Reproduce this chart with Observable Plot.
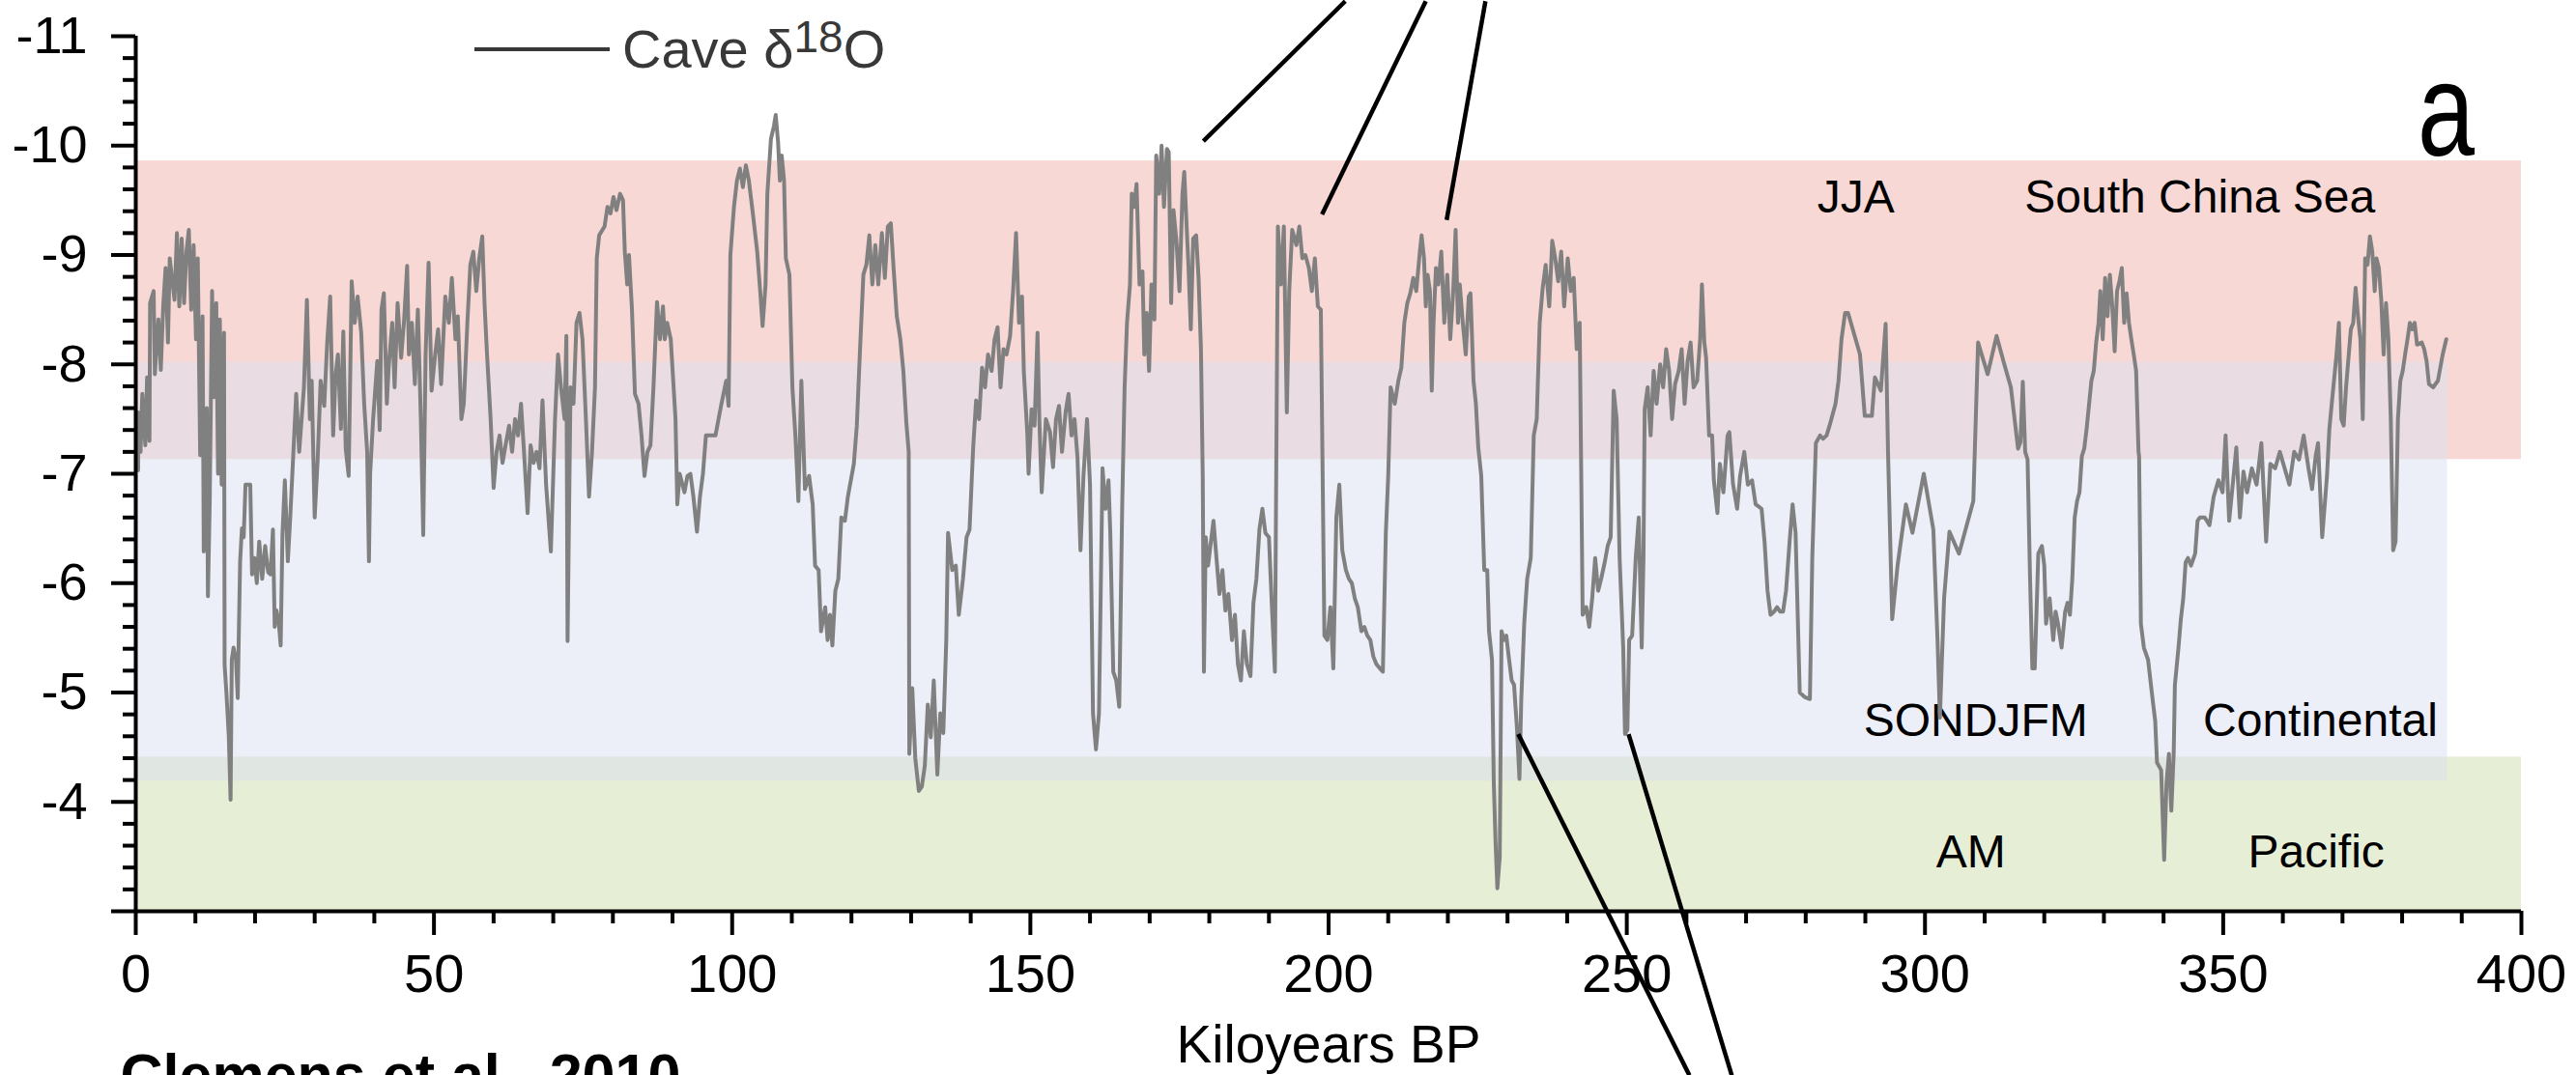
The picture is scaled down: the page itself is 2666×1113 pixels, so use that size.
<!DOCTYPE html>
<html>
<head>
<meta charset="utf-8">
<script src="https://cdn.jsdelivr.net/npm/d3@7"></script>
<script src="https://cdn.jsdelivr.net/npm/@observablehq/plot@0.6"></script>
<style>
  html, body { margin: 0; padding: 0; background: #fff; overflow: hidden; }
  #wrap { position: relative; width: 2666px; height: 1113px; overflow: hidden;
          font-family: "Liberation Sans", Arial, Helvetica, sans-serif; }
  #wrap svg { position: absolute; left: 0; top: 0; overflow: visible; }
  .legend-line { position: absolute; left: 491px; top: 49px; width: 140px; height: 4px; background: #383838; }
  .legend-text { position: absolute; left: 644px; top: 23px; font-size: 56px; line-height: 1; color: #383838; white-space: nowrap; }
  .legend-text .sup { font-size: 46px; position: relative; top: -16px; }
  .panel { position: absolute; left: 2502px; top: 44px; font-size: 138px; line-height: 1; color: #000;
           transform: scaleX(0.77); transform-origin: 0 0; }
</style>
</head>
<body>
<div id="wrap">
  <div class="legend-line"></div>
  <div class="legend-text">Cave δ<span class="sup">18</span>O</div>
  <div class="panel">a</div>
</div>
<script>
// ---- Cave δ18O record: [age (ka BP), δ18O (‰)] ----
const caveRecord = [
[0.4,-7.03],[0.45,-7.56],[0.8,-7.2],[1.1,-7.73],[1.6,-7.26],[1.9,-7.88],[2.3,-7.3],[2.4,-8.56],[3.0,-8.67],[3.2,-7.91],
[3.8,-8.41],[4.2,-7.95],[4.6,-8.53],[5.0,-8.88],[5.4,-8.2],[5.7,-8.97],[6.2,-8.73],[6.5,-8.59],[6.9,-9.2],[7.3,-8.53],
[7.7,-9.15],[8.1,-8.56],[8.5,-9.03],[8.9,-9.23],[9.3,-8.5],[9.7,-9.09],[10.1,-8.23],[10.4,-8.97],[10.8,-7.17],[11.2,-8.44],
[11.4,-6.29],[11.9,-7.6],[12.1,-5.88],[12.4,-6.73],[12.8,-8.67],[13.1,-7.7],[13.5,-8.56],[13.8,-7.0],[14.1,-8.41],[14.4,-6.9],
[14.8,-8.29],[14.9,-5.25],[15.2,-5.0],[15.6,-4.6],[15.9,-4.02],[16.1,-5.3],[16.4,-5.41],[16.8,-5.3],[17.1,-4.95],[17.3,-5.6],
[17.5,-6.2],[17.8,-6.5],[18.1,-6.42],[18.4,-6.9],[19.2,-6.9],[19.5,-6.08],[19.9,-6.23],[20.3,-6.0],[20.7,-6.38],[21.2,-6.04],
[21.7,-6.34],[22.2,-6.1],[22.6,-6.08],[23.0,-6.49],[23.3,-5.6],[23.6,-5.75],[24.0,-5.63],[24.3,-5.43],[24.6,-6.45],[25.0,-6.94],
[25.5,-6.2],[25.9,-6.6],[26.3,-7.05],[26.9,-7.73],[27.4,-7.2],[28.2,-7.79],[28.7,-8.59],[29.2,-7.5],[29.5,-7.85],[30.0,-6.6],
[30.5,-7.13],[31.0,-7.85],[31.6,-7.62],[32.1,-8.2],[32.6,-8.62],[33.1,-7.35],[33.5,-7.9],[33.9,-8.09],[34.4,-7.41],[34.8,-8.3],
[35.2,-7.23],[35.7,-6.98],[36.2,-8.76],[36.7,-8.38],[37.2,-8.62],[37.8,-8.29],[38.3,-7.64],[38.8,-7.2],[39.1,-6.2],[39.3,-7.0],
[39.8,-7.5],[40.5,-8.03],[40.9,-7.4],[41.2,-8.5],[41.6,-8.65],[42.1,-7.64],[42.4,-7.97],[43.0,-8.38],[43.4,-7.79],[43.9,-8.56],
[44.5,-8.06],[45.0,-8.41],[45.5,-8.9],[45.8,-8.09],[46.3,-8.38],[46.8,-7.82],[47.3,-8.5],[47.8,-7.5],[48.2,-6.44],[48.6,-8.09],
[49.1,-8.93],[49.6,-7.76],[50.2,-8.09],[50.7,-8.32],[51.2,-7.82],[51.9,-8.62],[52.5,-8.38],[53.0,-8.79],[53.6,-8.23],[54.0,-8.44],
[54.6,-7.5],[55.0,-7.64],[55.6,-8.38],[56.1,-8.91],[56.6,-9.03],[57.1,-8.67],[57.6,-8.97],[58.1,-9.17],[58.5,-8.53],[58.9,-8.09],
[59.5,-7.5],[60.0,-6.87],[60.5,-7.2],[61.0,-7.35],[61.5,-7.1],[62.0,-7.26],[62.6,-7.44],[63.1,-7.2],[63.6,-7.5],[64.1,-7.35],
[64.6,-7.64],[65.1,-7.2],[65.7,-6.64],[66.2,-7.26],[66.7,-7.1],[67.2,-7.2],[67.7,-7.05],[68.2,-7.67],[68.8,-6.9],[69.6,-6.29],
[70.3,-7.5],[70.8,-8.09],[71.3,-7.79],[71.9,-7.5],[72.2,-8.26],[72.4,-5.47],[72.9,-7.79],[73.4,-7.64],[73.9,-8.38],[74.4,-8.47],
[74.9,-8.23],[75.5,-7.47],[76.0,-6.79],[76.5,-7.2],[77.0,-7.79],[77.3,-8.97],[77.7,-9.18],[78.6,-9.26],[79.1,-9.44],[79.6,-9.38],
[80.1,-9.53],[80.6,-9.41],[81.2,-9.56],[81.7,-9.5],[82.0,-9.03],[82.4,-8.73],[82.7,-9.0],[83.2,-8.5],[83.7,-7.73],[84.3,-7.64],
[84.8,-7.35],[85.3,-6.98],[85.8,-7.2],[86.3,-7.26],[86.8,-7.79],[87.4,-8.57],[87.9,-8.23],[88.4,-8.53],[88.7,-8.23],[89.1,-8.38],
[89.7,-8.23],[90.5,-7.5],[90.8,-6.72],[91.2,-7.0],[92.0,-6.83],[92.5,-6.98],[93.0,-7.0],[93.5,-6.79],[94.1,-6.47],[94.6,-6.79],
[95.1,-7.0],[95.6,-7.35],[97.2,-7.35],[98.2,-7.64],[99.0,-7.85],[99.4,-7.62],[99.7,-9.0],[100.3,-9.44],[100.8,-9.68],[101.3,-9.79],
[101.8,-9.62],[102.3,-9.82],[102.8,-9.68],[103.4,-9.41],[104.2,-9.03],[104.7,-8.67],[105.1,-8.35],[105.6,-8.73],[105.9,-9.56],[106.5,-10.06],
[107.0,-10.18],[107.3,-10.28],[107.7,-10.03],[108.0,-9.68],[108.3,-9.91],[108.7,-9.68],[109.0,-8.97],[109.6,-8.82],[110.1,-7.79],[110.6,-7.35],
[111.1,-6.75],[111.6,-7.85],[112.2,-6.86],[112.9,-6.98],[113.5,-6.72],[113.9,-6.16],[114.5,-6.12],[114.9,-5.56],[115.6,-5.78],[116.0,-5.48],
[116.4,-5.71],[116.8,-5.43],[117.3,-5.93],[117.8,-6.04],[118.3,-6.6],[118.9,-6.57],[119.4,-6.79],[120.4,-7.09],[120.9,-7.44],[121.4,-8.09],
[122.0,-8.82],[122.5,-8.91],[123.0,-9.18],[123.5,-8.73],[124.0,-9.09],[124.5,-8.73],[125.1,-9.2],[125.6,-8.79],[126.1,-9.26],[126.6,-9.29],
[127.1,-8.85],[127.6,-8.44],[128.2,-8.23],[128.7,-7.94],[129.2,-7.47],[129.6,-7.2],[129.7,-4.44],[130.2,-5.04],[130.7,-4.4],[131.3,-4.1],
[131.8,-4.14],[132.3,-4.33],[132.8,-4.89],[133.3,-4.59],[133.8,-5.11],[134.4,-4.25],[134.9,-4.81],[135.4,-4.63],[135.9,-5.48],[136.2,-6.46],
[136.9,-6.12],[137.5,-6.16],[138.0,-5.71],[138.7,-6.04],[139.3,-6.42],[139.8,-6.49],[140.4,-7.23],[140.9,-7.67],[141.4,-7.5],[141.9,-7.97],
[142.4,-7.79],[142.9,-8.09],[143.5,-7.94],[144.0,-8.23],[144.5,-8.34],[145.0,-7.79],[145.5,-8.14],[146.0,-8.09],[146.6,-8.26],[147.1,-8.67],
[147.6,-9.2],[148.1,-8.38],[148.6,-8.62],[148.9,-7.94],[149.5,-7.35],[149.7,-7.0],[150.2,-7.59],[150.7,-7.44],[151.2,-8.29],[151.5,-7.5],
[151.9,-6.83],[152.6,-7.5],[153.3,-7.38],[153.8,-7.06],[154.3,-7.5],[154.8,-7.62],[155.3,-7.2],[155.9,-7.56],[156.4,-7.73],[156.9,-7.35],
[157.4,-7.5],[157.9,-7.15],[158.4,-6.3],[158.9,-6.98],[159.5,-7.5],[160.0,-6.9],[160.5,-4.81],[161.0,-4.48],[161.5,-4.81],[162.1,-7.05],
[162.6,-6.68],[163.1,-6.94],[163.4,-6.46],[163.9,-5.19],[164.4,-5.11],[164.9,-4.87],[165.4,-6.72],[165.8,-7.79],[166.2,-8.38],[166.7,-8.73],
[167.0,-9.56],[167.4,-9.44],[167.8,-9.65],[168.3,-8.73],[168.8,-8.85],[169.1,-8.09],[169.5,-8.47],[169.9,-7.94],[170.3,-8.73],[170.8,-8.41],
[171.1,-9.91],[171.6,-9.56],[172.0,-10.0],[172.4,-9.44],[172.9,-9.97],[173.2,-9.94],[173.6,-8.56],[174.0,-9.41],[174.5,-9.12],[175.0,-8.67],
[175.5,-9.56],[175.8,-9.76],[176.2,-9.26],[176.5,-8.91],[176.9,-8.32],[177.3,-9.15],[177.8,-9.18],[178.2,-8.79],[178.6,-8.14],[178.9,-6.98],
[179.1,-5.19],[179.4,-6.42],[179.8,-6.16],[180.1,-6.3],[180.7,-6.57],[181.2,-6.23],[181.7,-5.9],[182.2,-6.12],[182.7,-5.75],[183.2,-5.9],
[183.8,-5.48],[184.3,-5.71],[184.8,-5.26],[185.3,-5.11],[185.8,-5.56],[186.3,-5.26],[186.9,-5.15],[187.4,-5.82],[187.9,-6.04],[188.4,-6.49],
[188.9,-6.68],[189.4,-6.46],[190.0,-6.42],[190.5,-5.78],[191.0,-5.19],[191.5,-9.26],[192.0,-8.73],[192.5,-9.26],[193.0,-7.56],[193.4,-8.67],
[193.9,-9.23],[194.6,-9.09],[195.1,-9.26],[195.6,-8.97],[196.1,-9.0],[196.7,-8.88],[197.2,-8.67],[197.7,-8.97],[198.2,-8.53],[198.7,-8.5],
[199.3,-5.52],[199.8,-5.48],[200.3,-5.78],[200.8,-5.22],[201.3,-6.6],[201.8,-6.9],[202.3,-6.3],[202.9,-6.12],[203.4,-6.04],[203.9,-6.0],
[204.4,-5.86],[204.9,-5.78],[205.5,-5.56],[206.0,-5.6],[206.5,-5.52],[207.0,-5.48],[207.5,-5.33],[208.0,-5.26],[208.6,-5.22],[209.1,-5.19],
[209.6,-6.46],[210.0,-6.98],[210.4,-7.79],[211.1,-7.64],[211.7,-7.85],[212.2,-7.97],[212.7,-8.38],[213.2,-8.56],[213.7,-8.65],[214.2,-8.79],
[214.7,-8.67],[215.3,-9.03],[215.6,-9.18],[216.0,-8.97],[216.3,-8.53],[216.6,-8.82],[217.0,-8.67],[217.3,-7.76],[217.6,-8.38],[218.0,-8.88],
[218.4,-8.73],[218.9,-9.03],[219.4,-8.38],[219.9,-8.82],[220.4,-8.23],[220.9,-8.67],[221.3,-9.23],[221.7,-8.38],[222.0,-8.73],[222.5,-8.38],
[223.0,-8.09],[223.5,-8.62],[223.8,-8.65],[224.3,-7.85],[224.7,-7.64],[225.1,-7.24],[225.6,-6.98],[226.1,-6.12],[226.6,-6.12],[226.9,-5.56],
[227.4,-5.3],[227.7,-4.18],[228.0,-3.62],[228.3,-3.21],[228.7,-3.5],[229.0,-5.56],[229.4,-5.48],[229.8,-5.52],[230.2,-5.33],[230.7,-5.11],
[231.1,-5.07],[231.6,-4.66],[232.0,-4.21],[232.3,-4.92],[232.8,-5.63],[233.3,-6.04],[233.9,-6.23],[234.4,-7.35],[234.9,-7.5],[235.4,-8.38],
[235.9,-8.7],[236.4,-8.91],[237.0,-8.53],[237.5,-9.13],[238.0,-8.97],[238.5,-8.76],[239.0,-9.03],[239.5,-8.53],[240.1,-8.97],[240.6,-8.67],
[241.1,-8.79],[241.6,-8.14],[242.1,-8.38],[242.6,-5.71],[243.2,-5.78],[243.7,-5.6],[244.2,-5.86],[244.7,-6.23],[245.2,-5.93],[245.7,-6.04],
[246.3,-6.19],[246.8,-6.34],[247.3,-6.42],[247.8,-7.76],[248.3,-7.5],[248.8,-6.23],[249.4,-5.41],[249.7,-4.62],[250.1,-4.66],[250.4,-5.48],
[250.9,-5.52],[251.5,-6.23],[252.0,-6.6],[252.5,-5.41],[252.8,-6.23],[253.0,-7.59],[253.5,-7.79],[254.0,-7.35],[254.5,-7.94],[255.0,-7.64],
[255.6,-8.0],[256.1,-7.79],[256.6,-8.14],[257.1,-7.94],[257.6,-7.5],[258.1,-7.82],[258.7,-7.94],[259.2,-8.14],[259.7,-7.64],[260.2,-8.03],
[260.7,-8.2],[261.2,-7.79],[261.8,-7.85],[262.3,-8.23],[262.6,-8.73],[263.0,-8.2],[263.3,-8.06],[263.8,-7.35],[264.3,-7.35],[264.6,-6.94],
[265.2,-6.64],[265.6,-7.09],[266.2,-6.83],[266.9,-7.35],[267.2,-7.38],[267.8,-6.91],[268.5,-6.68],[269.0,-6.98],[269.7,-7.2],[270.3,-6.9],
[271.0,-6.94],[271.6,-6.72],[272.1,-6.7],[272.6,-6.68],[273.1,-6.38],[273.6,-5.93],[274.1,-5.71],[274.7,-5.74],[275.2,-5.78],[275.7,-5.74],
[276.2,-5.74],[276.7,-5.93],[277.3,-6.38],[277.8,-6.72],[278.3,-6.46],[279.0,-5.0],[279.8,-4.96],[280.7,-4.94],[281.1,-6.23],[281.7,-7.28],
[282.4,-7.35],[282.9,-7.32],[283.5,-7.35],[284.0,-7.44],[285.0,-7.64],[285.5,-7.85],[286.0,-8.23],[286.6,-8.47],[287.1,-8.47],[289.1,-8.09],
[289.9,-7.53],[291.1,-7.53],[291.6,-7.88],[292.6,-7.76],[293.4,-8.37],[293.8,-7.2],[294.5,-5.67],[295.4,-6.16],[296.8,-6.72],[297.9,-6.46],
[299.8,-7.0],[301.4,-6.49],[302.1,-5.48],[302.5,-4.77],[303.2,-5.86],[304.1,-6.47],[305.7,-6.27],[308.1,-6.75],[308.9,-8.2],[310.5,-7.91],
[312.0,-8.26],[313.2,-8.02],[314.4,-7.79],[315.6,-7.23],[316.0,-7.29],[316.4,-7.84],[316.8,-7.2],[317.2,-7.13],[317.6,-6.08],[318.0,-5.22],
[318.4,-5.22],[319.0,-6.27],[319.6,-6.34],[320.0,-6.16],[320.3,-5.63],[320.9,-5.86],[321.5,-5.48],[321.9,-5.74],[322.3,-5.63],[322.9,-5.41],
[323.5,-5.74],[323.9,-5.82],[324.3,-5.71],[324.7,-6.04],[325.1,-6.6],[325.5,-6.75],[325.9,-6.83],[326.3,-7.16],[326.7,-7.23],[327.1,-7.41],
[327.9,-7.85],[328.3,-7.94],[328.7,-8.2],[329.1,-8.38],[329.4,-8.67],[329.8,-8.23],[330.2,-8.79],[330.6,-8.44],[331.0,-8.82],[331.4,-8.53],
[331.8,-8.12],[332.2,-8.67],[332.6,-8.76],[333.0,-8.88],[333.4,-8.38],[333.8,-8.65],[334.2,-8.38],[334.6,-8.23],[335.0,-8.09],[335.4,-7.94],
[335.8,-7.2],[335.9,-7.16],[336.2,-5.63],[336.7,-5.41],[337.4,-5.3],[337.8,-5.11],[338.2,-4.92],[338.6,-4.74],[338.9,-4.36],[339.6,-4.29],
[340.1,-3.47],[340.5,-4.18],[340.9,-4.44],[341.3,-3.92],[341.7,-4.44],[341.9,-5.07],[342.5,-5.41],[342.9,-5.67],[343.3,-5.86],[343.7,-6.19],
[344.1,-6.23],[344.6,-6.16],[345.3,-6.27],[345.7,-6.57],[346.1,-6.6],[346.9,-6.6],[347.7,-6.53],[348.4,-6.79],[349.2,-6.94],[349.9,-6.83],
[350.4,-7.35],[351.0,-6.57],[351.6,-6.9],[352.2,-7.24],[352.8,-6.6],[353.4,-7.02],[354.0,-6.83],[354.8,-7.05],[355.6,-6.9],[356.4,-7.28],
[357.2,-6.38],[357.9,-7.09],[358.7,-7.05],[359.5,-7.2],[360.3,-7.05],[361.1,-6.9],[361.9,-7.2],[362.7,-7.13],[363.5,-7.35],[364.3,-7.05],
[364.9,-6.86],[365.5,-7.16],[365.9,-7.28],[366.6,-6.42],[367.4,-6.98],[367.8,-7.41],[368.2,-7.64],[369.0,-8.09],[369.4,-8.38],[369.8,-7.5],
[370.2,-7.44],[370.6,-7.79],[371.4,-8.32],[371.8,-8.38],[372.2,-8.7],[372.6,-8.44],[373.0,-8.23],[373.4,-7.5],[373.8,-8.97],[374.2,-8.91],
[374.6,-9.17],[375.0,-9.03],[375.4,-8.67],[375.7,-8.97],[376.1,-8.88],[376.5,-8.59],[376.9,-8.09],[377.3,-8.56],[377.7,-8.23],[378.1,-7.5],
[378.5,-6.3],[378.9,-6.38],[379.3,-7.5],[379.7,-7.85],[380.1,-7.94],[380.5,-8.09],[380.9,-8.23],[381.3,-8.38],[381.7,-8.32],[382.1,-8.38],
[382.5,-8.18],[383.3,-8.2],[383.7,-8.14],[384.1,-8.03],[384.5,-7.82],[385.2,-7.79],[386.0,-7.85],[386.8,-8.09],[387.4,-8.23]
];

// ---- Shaded source/season bands (δ18O ranges) ----
const bandName    = ["JJA / South China Sea", "AM / Pacific", "SONDJFM / Continental"];
const bandFrom    = [-9.86, -4.41, -8.02];
const bandTo      = [-7.13, -3.0, -4.19];
const bandStartKa = [0, 0, 0];
const bandEndKa   = [400, 400, 387.6];

// ---- Band labels ----
const labelText  = ["JJA", "South China Sea", "SONDJFM", "Continental", "AM", "Pacific"];
const labelKa    = [288.4, 346.1, 308.5, 366.3, 307.7, 365.6];
const labelD18O  = [-9.52, -9.52, -4.74, -4.74, -3.54, -3.54];

// ---- Connector lines to neighbouring panels (endpoints in data units) ----
const connFromKa = [179.0, 198.9, 219.8, 231.8, 250.3];
const connFromD  = [-10.04, -9.37, -9.32, -4.62, -4.62];
const connToKa   = [202.8, 216.3, 226.3, 260.5, 267.6];
const connToD    = [-11.32, -11.32, -11.32, -1.50, -1.50];

// ---- Axes ----
const xMajorTicks = [0, 50, 100, 150, 200, 250, 300, 350, 400];
const xMinorTicks = [10,20,30,40,60,70,80,90,110,120,130,140,160,170,180,190,210,220,230,240,260,270,280,290,310,320,330,340,360,370,380,390];
const yMajorTicks = [-11, -10, -9, -8, -7, -6, -5, -4, -3];
const yTickLabels = ["-11", "-10", "-9", "-8", "-7", "-6", "-5", "-4", ""];
const yMinorTicks = [-10.8,-10.6,-10.4,-10.2,-9.8,-9.6,-9.4,-9.2,-8.8,-8.6,-8.4,-8.2,-7.8,-7.6,-7.4,-7.2,
                     -6.8,-6.6,-6.4,-6.2,-5.8,-5.6,-5.4,-5.2,-4.8,-4.6,-4.4,-4.2,-3.8,-3.6,-3.4,-3.2];
const xTitle = "Kiloyears BP";
const caption = "Clemens et al., 2010";

const bandColors = ["#f8d8d4", "#e6efd6", "#d9dfef"];
const bandOpacity = [1, 1, 0.5];

const idx = bandName.map((_, i) => i);

const chart = Plot.plot({
  width: 2666,
  height: 1113,
  marginLeft: 140,
  marginRight: 57,
  marginTop: 37,
  marginBottom: 170,
  style: { fontFamily: "'Liberation Sans', Arial, Helvetica, sans-serif", background: "transparent", overflow: "visible" },
  x: { domain: [0, 400], label: null },
  y: { domain: [-3, -11], label: null },
  marks: [
    ...idx.map(i => Plot.rect([i], {
      x1: [bandStartKa[i]], x2: [bandEndKa[i]], y1: [bandFrom[i]], y2: [bandTo[i]],
      fill: bandColors[i], fillOpacity: bandOpacity[i]
    })),
    Plot.text(labelText, { x: labelKa, y: labelD18O, text: labelText, fontSize: 48, fill: "black", lineAnchor: "middle" }),
    Plot.line(caveRecord, { x: d => d[0], y: d => d[1], stroke: "#808080", strokeWidth: 4 }),
    Plot.axisY(yMajorTicks, { tickSize: 25, tickPadding: 25, fontSize: 54, strokeWidth: 4, label: null,
      tickFormat: d => yTickLabels[yMajorTicks.indexOf(d)] }),
    Plot.axisY(yMinorTicks, { tickSize: 13, strokeWidth: 4, label: null, tickFormat: () => "" }),
    Plot.axisX(xMajorTicks, { tickSize: 25, tickPadding: 19, fontSize: 56, strokeWidth: 4, label: null,
      tickFormat: d => String(d) }),
    Plot.axisX(xMinorTicks, { tickSize: 13, strokeWidth: 4, label: null, tickFormat: () => "" }),
    Plot.ruleX([0], { strokeWidth: 4 }),
    Plot.ruleY([-3], { strokeWidth: 4 }),
    Plot.text([xTitle], { frameAnchor: "bottom", lineAnchor: "middle", dy: 139, fontSize: 55, text: d => d, fill: "black" }),
    Plot.text([caption], { frameAnchor: "bottom-left", lineAnchor: "middle", textAnchor: "start", dx: -16, dy: 171, fontSize: 61,
      fontWeight: "bold", text: d => d, fill: "black" }),
    Plot.link(connFromKa, { x1: connFromKa, y1: connFromD, x2: connToKa, y2: connToD, stroke: "black", strokeWidth: 4.5 })
  ]
});

document.getElementById("wrap").prepend(chart);
</script>
</body>
</html>
